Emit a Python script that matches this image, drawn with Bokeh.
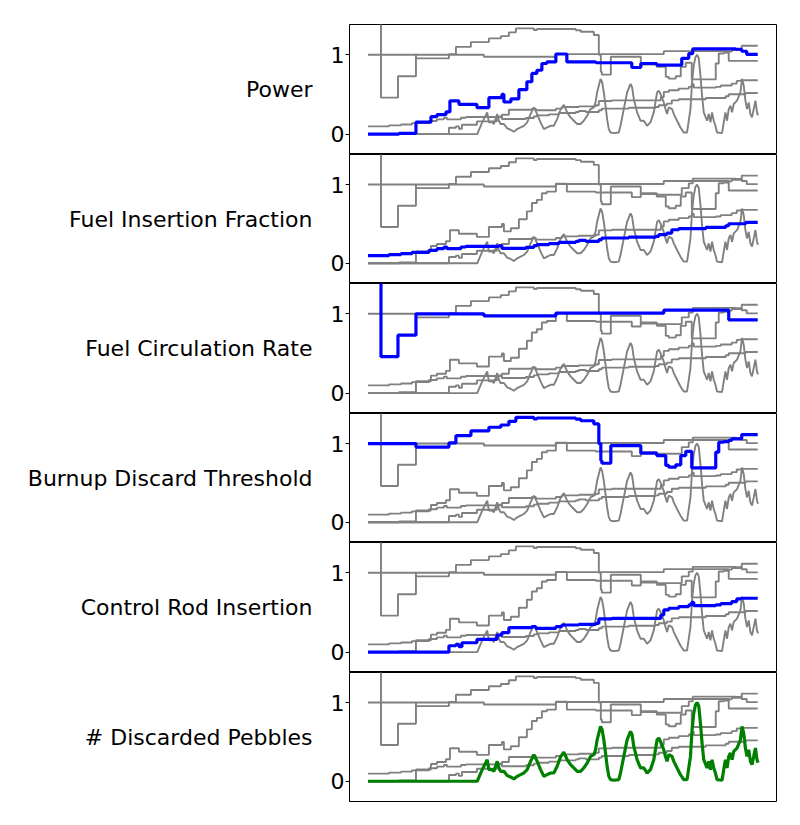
from bokeh.plotting import figure
from bokeh.layouts import column
from bokeh.models import Range1d, FixedTicker
from bokeh.embed import file_html
from bokeh.resources import INLINE

labels = ["Power", "Fuel Insertion Fraction", "Fuel Circulation Rate",
          "Burnup Discard Threshold", "Control Rod Insertion", "# Discarded Pebbles"]

# step series: change points (time step, value)
power_x = [0, 31, 48, 63, 69, 78, 82, 91, 109, 121, 134, 136, 143, 151, 159, 164, 169,
           174, 179, 188, 199, 228, 264, 273, 289, 314, 321, 325, 368, 374, 379, 390]
power_y = [0.0, 0.01, 0.15, 0.22, 0.245, 0.28, 0.42, 0.375, 0.335, 0.46, 0.50, 0.405, 0.445,
           0.56, 0.66, 0.765, 0.805, 0.89, 0.91, 1.01, 0.91, 0.90, 0.84, 0.89, 0.87, 0.955,
           1.015, 1.075, 1.07, 1.045, 1.005, 1.005]

fuel_ins_x = [0, 21, 33, 44, 61, 69, 76, 79, 93, 98, 131, 134, 158, 166, 169, 181, 191, 208,
              211, 218, 231, 234, 261, 288, 291, 299, 304, 311, 338, 358, 361, 378, 390]
fuel_ins_y = [0.097, 0.11, 0.122, 0.139, 0.165, 0.186, 0.207, 0.186, 0.207, 0.215, 0.224, 0.19,
              0.203, 0.224, 0.236, 0.249, 0.266, 0.278, 0.291, 0.278, 0.30, 0.321, 0.333, 0.342,
              0.363, 0.384, 0.426, 0.439, 0.456, 0.477, 0.502, 0.519, 0.519]

fuel_circ_x = [0, 13, 30, 48, 116, 188, 296, 361, 390]
fuel_circ_y = [2.0, 0.46, 0.73, 1.0, 0.975, 1.008, 1.046, 0.924, 0.924]

burnup_x = [0, 48, 81, 88, 103, 121, 133, 141, 148, 166, 169, 208, 213, 226, 231, 233, 234,
            243, 273, 289, 298, 301, 308, 313, 318, 324, 348, 351, 356, 361, 364, 374, 390]
burnup_y = [1.0, 0.955, 1.008, 1.10, 1.16, 1.207, 1.236, 1.283, 1.333, 1.312, 1.325, 1.31,
            1.29, 1.25, 1.0, 0.785, 0.75, 0.975, 0.878, 0.848, 0.722, 0.70, 0.73, 0.848, 0.90,
            0.69, 0.89, 1.017, 1.025, 1.04, 1.06, 1.114, 1.114]

rod_x = [0, 81, 88, 91, 94, 109, 129, 134, 141, 164, 168, 188, 194, 211, 228, 231, 244, 293,
         296, 301, 311, 321, 324, 326, 348, 353, 364, 369, 373, 390]
rod_y = [0.0, 0.08, 0.097, 0.068, 0.118, 0.16, 0.215, 0.245, 0.308, 0.321, 0.30, 0.321, 0.342,
         0.35, 0.363, 0.418, 0.426, 0.468, 0.532, 0.553, 0.574, 0.595, 0.629, 0.586, 0.595,
         0.612, 0.637, 0.671, 0.679, 0.679]

# line series
pebbles_x = [0, 109.3, 114.3, 119.3, 121, 124.3, 126, 129.3, 131, 132.7, 136, 139.3, 142.7, 146,
             149.3, 152.7, 156, 159.3, 162.7, 166, 169.3, 172.7, 176, 179.3, 182.7, 186, 189.3,
             192.7, 196, 199.3, 202.7, 206, 209.3, 212.7, 216, 219.3, 222.7, 226, 227.7, 229.3,
             232.7, 234.3, 236, 237.7, 239.3, 241, 242.7, 246, 251, 252.7, 256, 259.3, 262.7,
             264.3, 266, 269.3, 272.7, 276, 279.3, 282.7, 286, 289.3, 291, 292.7, 296, 297.7,
             299.3, 301, 304.3, 306, 309.3, 312.7, 316, 319.3, 322.7, 324.3, 326, 327.7, 329.3,
             331, 332.7, 334.3, 336, 339.3, 341, 342.7, 344.3, 346, 347.7, 349.3, 354.3, 356,
             357.7, 359.3, 361, 362.7, 364.3, 366, 369.3, 372.7, 374.3, 376, 377.7, 379.3, 381,
             382.7, 384.3, 386, 387.7, 389.3, 390.3]
pebbles_y = [0.0, 0.0, 0.148, 0.274, 0.148, 0.148, 0.127, 0.253, 0.169, 0.127, 0.127, 0.072,
             0.055, 0.03, 0.063, 0.084, 0.105, 0.148, 0.253, 0.338, 0.253, 0.148, 0.063, 0.084,
             0.105, 0.105, 0.19, 0.31, 0.37, 0.274, 0.211, 0.169, 0.127, 0.127, 0.169, 0.232,
             0.316, 0.338, 0.40, 0.527, 0.696, 0.654, 0.527, 0.359, 0.19, 0.063, 0.021, 0.013,
             0.021, 0.105, 0.316, 0.527, 0.633, 0.591, 0.443, 0.274, 0.169, 0.169, 0.105, 0.148,
             0.274, 0.527, 0.549, 0.506, 0.40, 0.316, 0.253, 0.338, 0.316, 0.253, 0.169, 0.084,
             0.021, 0.021, 0.316, 0.654, 0.865, 0.97, 1.0, 0.958, 0.738, 0.485, 0.274, 0.169,
             0.253, 0.148, 0.274, 0.169, 0.105, 0.021, 0.013, 0.148, 0.274, 0.169, 0.316, 0.359,
             0.274, 0.38, 0.422, 0.527, 0.696, 0.612, 0.422, 0.316, 0.40, 0.253, 0.211, 0.316,
             0.422, 0.274, 0.236]

series = [
    ("step", power_x, power_y),
    ("step", fuel_ins_x, fuel_ins_y),
    ("step", fuel_circ_x, fuel_circ_y),
    ("step", burnup_x, burnup_y),
    ("step", rod_x, rod_y),
    ("line", pebbles_x, pebbles_y),
]
highlight_colors = ["#0000ff"] * 5 + ["#008000"]

FONT = "DejaVu Sans"
frame_h = [130, 129, 130, 129, 130, 129]
LEFT = 349
FRAME_W = 427
RIGHT = 15

figs = []
for i, lab in enumerate(labels):
    top = 24 if i == 0 else 0
    bottom = 10 if i == 5 else 0
    p = figure(width=LEFT + FRAME_W + RIGHT, height=frame_h[i] + top + bottom,
               output_backend="svg", toolbar_location=None,
               x_range=Range1d(-18.5, 408.8), y_range=Range1d(-0.257, 1.382))
    p.min_border = 0
    p.min_border_left = LEFT
    p.min_border_right = RIGHT
    p.min_border_top = top
    p.min_border_bottom = bottom
    p.xaxis.visible = False
    p.xgrid.visible = False
    p.ygrid.visible = False
    p.outline_line_color = "black"
    p.outline_line_width = 1
    p.outline_line_alpha = 1
    p.background_fill_color = "white"
    p.border_fill_color = "white"

    ax = p.yaxis[0]
    ax.ticker = FixedTicker(ticks=[0, 1])
    ax.minor_tick_line_color = None
    ax.major_tick_out = 4
    ax.major_tick_in = 0
    ax.major_label_text_font = FONT
    ax.major_label_text_font_size = "22px"
    ax.major_label_text_color = "black"
    ax.major_label_standoff = 1
    ax.axis_line_color = "black"
    ax.axis_label = lab
    ax.axis_label_orientation = "horizontal"
    ax.axis_label_text_font = FONT
    ax.axis_label_text_font_size = "22px"
    ax.axis_label_text_font_style = "normal"
    ax.axis_label_text_color = "black"
    ax.axis_label_standoff = 15

    for j, (kind, xs, ys) in enumerate(series):
        if j == i:
            continue
        if kind == "step":
            p.step(xs, ys, mode="after", line_color="#808080", line_width=1.9)
        else:
            p.line(xs, ys, line_color="#808080", line_width=1.9)
    kind, xs, ys = series[i]
    if kind == "step":
        p.step(xs, ys, mode="after", line_color=highlight_colors[i], line_width=3.2)
    else:
        p.line(xs, ys, line_color=highlight_colors[i], line_width=3.2)
    figs.append(p)

layout = column(*figs, spacing=0)
open("out.html", "w").write(file_html(layout, INLINE))
